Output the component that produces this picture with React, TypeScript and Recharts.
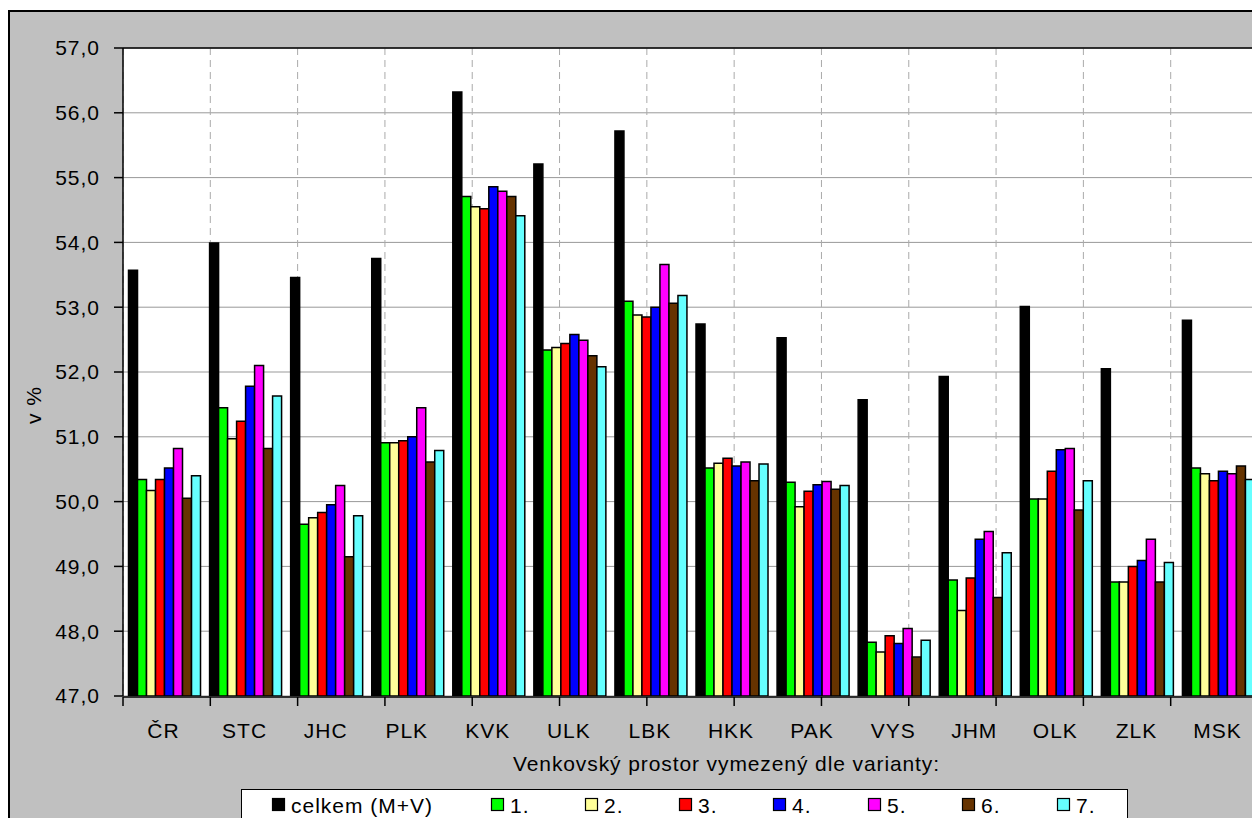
import React from 'react';
import { BarChart, Bar, XAxis, YAxis, CartesianGrid, Legend, ReferenceLine } from 'recharts';

const FONT = "'Liberation Sans', Arial, sans-serif";

// ---- data ----
const categories = ['ČR', 'STC', 'JHC', 'PLK', 'KVK', 'ULK', 'LBK', 'HKK', 'PAK', 'VYS', 'JHM', 'OLK', 'ZLK', 'MSK'];
const celkem = [53.57, 53.99, 53.46, 53.75, 56.32, 55.21, 55.72, 52.74, 52.53, 51.57, 51.93, 53.01, 52.05, 52.8];
const v1 = [50.34, 51.45, 49.65, 50.91, 54.71, 52.34, 53.09, 50.52, 50.3, 47.83, 48.79, 50.04, 48.76, 50.52];
const v2 = [50.17, 50.97, 49.75, 50.91, 54.55, 52.38, 52.88, 50.59, 49.92, 47.68, 48.32, 50.04, 48.76, 50.43];
const v3 = [50.34, 51.24, 49.83, 50.94, 54.52, 52.44, 52.85, 50.67, 50.16, 47.93, 48.82, 50.47, 49.0, 50.32];
const v4 = [50.52, 51.78, 49.95, 51.0, 54.86, 52.58, 53.0, 50.55, 50.26, 47.81, 49.42, 50.8, 49.09, 50.47];
const v5 = [50.82, 52.1, 50.25, 51.45, 54.79, 52.49, 53.66, 50.61, 50.31, 48.04, 49.54, 50.82, 49.42, 50.43];
const v6 = [50.05, 50.82, 49.15, 50.61, 54.71, 52.25, 53.06, 50.32, 50.19, 47.6, 48.52, 49.87, 48.76, 50.55];
const v7 = [50.4, 51.63, 49.78, 50.79, 54.41, 52.08, 53.18, 50.58, 50.25, 47.86, 49.21, 50.32, 49.06, 50.34];

const seriesKeys = ['celkem', 'v1', 'v2', 'v3', 'v4', 'v5', 'v6', 'v7'];
const seriesNames = ['celkem (M+V)', '1.', '2.', '3.', '4.', '5.', '6.', '7.'];
const seriesValues = [celkem, v1, v2, v3, v4, v5, v6, v7];
const seriesColors = ['#000000', '#00ff00', '#ffff99', '#ff0000', '#0000ff', '#ff00ff', '#663300', '#66ffff'];

const yTicks = [47, 48, 49, 50, 51, 52, 53, 54, 55, 56, 57];
const xTitle = 'Venkovský prostor vymezený dle varianty:';
const yTitle = 'v %';

const data = categories.map((name, i) => {
  const row: Record<string, any> = { name };
  seriesKeys.forEach((k, s) => {
    row[k] = seriesValues[s][i];
  });
  return row;
});
const boundaryTicks = categories.map((_, i) => i).concat(categories.length);

const fmt = (v: number) => v.toFixed(1).replace('.', ',');

const textStyle = { fill: '#000', fontSize: 21, fontFamily: FONT, letterSpacing: 1 };

// legend layout (px, relative to legend box)
const LEGEND_W = 887;
const legendIconX = [31, 250, 344, 438, 532, 627, 721, 816];

const LegendContent = () => (
  <svg width={LEGEND_W} height={45} style={{ display: 'block' }}>
    <rect x={0.5} y={0.5} width={LEGEND_W - 1} height={44} fill="#fff" stroke="#000" strokeWidth={1} />
    {seriesNames.map((n, i) => (
      <g key={n}>
        <rect x={legendIconX[i] + 0.5} y={9.5} width={12} height={12} fill={seriesColors[i]} stroke="#000" strokeWidth={1.2} />
        <text x={legendIconX[i] + 19} y={23.5} fontSize={21} fontFamily={FONT} letterSpacing={1} fill="#000">
          {n}
        </text>
      </g>
    ))}
  </svg>
);

const XTitle = (props: any) => {
  const vb = props.viewBox || { x: 113, y: 684, width: 1135, height: 1 };
  const x = vb.x + vb.width / 2 + 36;
  const y = 759;
  return (
    <text x={x} y={y} textAnchor="middle" fontSize={21} fontFamily={FONT} letterSpacing={0.9} fill="#000">
      {xTitle}
    </text>
  );
};

const YTitle = (props: any) => {
  const vb = props.viewBox || { x: 0, y: 36, width: 113, height: 648 };
  const x = vb.x + 24;
  const y = vb.y + vb.height / 2 + 33;
  return (
    <text
      x={x}
      y={y}
      dy="0.35em"
      textAnchor="middle"
      transform={`rotate(-90 ${x} ${y})`}
      fontSize={21}
      fontFamily={FONT}
      letterSpacing={1}
      fill="#000"
    >
      {yTitle}
    </text>
  );
};

export default function App() {
  return (
    <div style={{ position: 'relative', width: 1252, height: 810, overflow: 'hidden' }}>
      <div
        style={{
          position: 'absolute',
          left: 0,
          top: 2,
          width: 1262,
          height: 830,
          background: '#c0c0c0',
          border: '2px solid #000',
          boxSizing: 'border-box',
        }}
      >
        <BarChart
          width={1250}
          height={800}
          data={data}
          margin={{ top: 36, right: 2, bottom: 114, left: 0 }}
          barCategoryGap="6.8%"
          barGap={0}
        >
          <CartesianGrid xAxisId="num" yAxisId="y" horizontal vertical={false} fill="#fff" stroke="#999" />
          <CartesianGrid
            xAxisId="num"
            yAxisId="y"
            horizontal={false}
            vertical
            stroke="#aaa"
            strokeDasharray="7 5"
          />
          <XAxis
            xAxisId="num"
            type="number"
            domain={[0, categories.length]}
            ticks={boundaryTicks}
            interval={0}
            height={1}
            tickSize={9}
            tickFormatter={() => ''}
            axisLine={{ stroke: '#000', strokeWidth: 1.5 }}
            tickLine={{ stroke: '#000', strokeWidth: 1.5 }}
            allowDataOverflow
          />
          <XAxis
            xAxisId="cat"
            dataKey="name"
            height={1}
            axisLine={false}
            tickLine={false}
            tickSize={0}
            tickMargin={27}
            interval={0}
            tick={textStyle}
            label={{ content: XTitle } as any}
          />
          <YAxis
            yAxisId="y"
            type="number"
            domain={[47, 57]}
            ticks={yTicks}
            interval={0}
            width={113}
            tickSize={9}
            tickMargin={14}
            tickFormatter={fmt}
            axisLine={{ stroke: '#000', strokeWidth: 1.5 }}
            tickLine={{ stroke: '#000', strokeWidth: 1.5 }}
            tick={textStyle}
            allowDataOverflow
            label={{ content: YTitle } as any}
          />
          {seriesKeys.map((k, i) => (
            <Bar
              key={k}
              xAxisId="cat"
              yAxisId="y"
              dataKey={k}
              name={seriesNames[i]}
              fill={seriesColors[i]}
              stroke="#000"
              strokeWidth={1.5}
              isAnimationActive={false}
            />
          ))}
          <ReferenceLine xAxisId="num" yAxisId="y" y={57} stroke="#000" strokeWidth={1.5} />
          <ReferenceLine xAxisId="num" yAxisId="y" x={categories.length} stroke="#333" strokeWidth={1.5} />
          <Legend
            layout="horizontal"
            verticalAlign="middle"
            align="center"
            wrapperStyle={{ left: 231, top: 777, width: LEGEND_W, height: 45 }}
            content={LegendContent}
          />
        </BarChart>
      </div>
    </div>
  );
}
